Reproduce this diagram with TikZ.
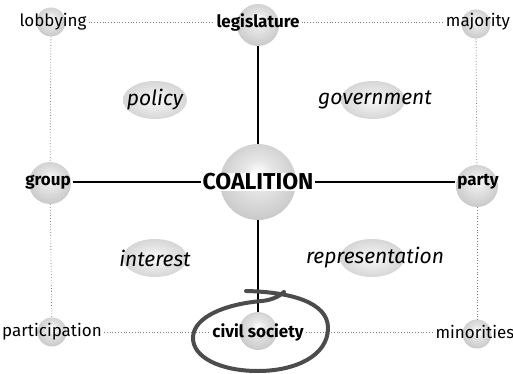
\documentclass[tikz,border=0pt]{standalone}
\usepackage{fontspec}
\setmainfont{Fira Sans}
\usetikzlibrary{positioning, shapes.geometric}

\pgfdeclareradialshading{softball}{\pgfpoint{0bp}{6bp}}{%
  color(0bp)=(white); color(10bp)=(gray!20); color(30bp)=(gray!45); color(50bp)=(gray!65)}

\begin{document}
\begin{tikzpicture}[
    x=1pt, y=-1pt,
    ball/.style={circle, shading=softball, inner sep=0pt},
    cornerball/.style={ball, minimum size=29pt},
    sideball/.style={ball, minimum size=42pt},
    term/.style={inner sep=2pt, font=\fontsize{17}{19}\selectfont},
    keyterm/.style={inner sep=2pt, font=\fontsize{17}{19}\selectfont\bfseries},
    blob/.style={ellipse, shading=radial, inner color=gray!5, outer color=gray!32, minimum width=64pt, minimum height=38pt, inner sep=0pt},
    theme/.style={inner sep=2pt, font=\fontsize{21}{23}\selectfont\itshape},
    dotline/.style={gray, dotted, thick},
    link/.style={line width=1.2pt},
    brush/.style={line width=4pt, gray!60!black, line cap=round},
]
\useasboundingbox (0,0) rectangle (513,374);

% ===== SPHERES =====
\node[cornerball] (b-lob) at (51,22) {};
\node[sideball] (b-leg) at (258,25) {};
\node[cornerball] (b-maj) at (476,24) {};
\node[sideball] (b-grp) at (50,183) {};
\node[ball, minimum size=76pt] (b-coal) at (258,182) {};
\node[sideball] (b-par) at (477,186) {};
\node[cornerball] (b-part) at (52,332) {};
\node[sideball, minimum size=38pt] (b-civ) at (258,331) {};
\node[cornerball] (b-min) at (477,334) {};

% ===== TERMS =====
\node[term] (lob) at (53,22) {lobbying};
\node[keyterm] (leg) at (258,22) {legislature};
\node[term] (maj) at (478,22) {majority};
\node[keyterm] (grp) at (48,182) {group};
\node[inner sep=1pt, fill=white, font=\fontsize{23}{25}\selectfont\bfseries] (coal) at (258,182) {COALITION};
\node[keyterm] (par) at (478,182) {party};
\node[term] (part) at (52,332) {participation};
\node[keyterm] (civ) at (258,332) {civil society};
\node[term] (min) at (475,332) {minorities};

% ===== THEMES =====
\node[blob] (pol-bg) at (155,100) {};
\node[theme] (pol) at (155,100) {policy};
\node[blob] (gov-bg) at (373,100) {};
\node[theme] (gov) at (375,100) {government};
\node[blob] (int-bg) at (155,258) {};
\node[theme] (int) at (155,258) {interest};
\node[blob] (rep-bg) at (372,258) {};
\node[theme] (rep) at (375,258) {representation};

% ===== DOTTED FRAME =====
\draw[dotline] (lob) -- (leg);
\draw[dotline] (leg) -- (maj);
\draw[dotline] (part) -- (civ);
\draw[dotline] (civ) -- (min);
\draw[dotline] (b-lob) -- (b-grp);
\draw[dotline] (b-grp) -- (b-part);
\draw[dotline] (b-maj) -- (b-par);
\draw[dotline] (b-par) -- (b-min);

% ===== SOLID CROSS =====
\draw[link] (b-leg) -- (b-coal);
\draw[link] (b-coal) -- (b-civ);
\draw[link] (grp) -- (coal);
\draw[link] (coal) -- (par);

% ===== HAND-DRAWN LOOP =====
\draw[brush] (246,291) .. controls (290,292) and (328,302) .. (328,328)
    .. controls (328,356) and (295,371) .. (258,371)
    .. controls (220,371) and (192,357) .. (193,337)
    .. controls (194,317) and (225,304) .. (262,301)
    .. controls (272,300) and (280,296) .. (284,292);

\end{tikzpicture}
\end{document}
